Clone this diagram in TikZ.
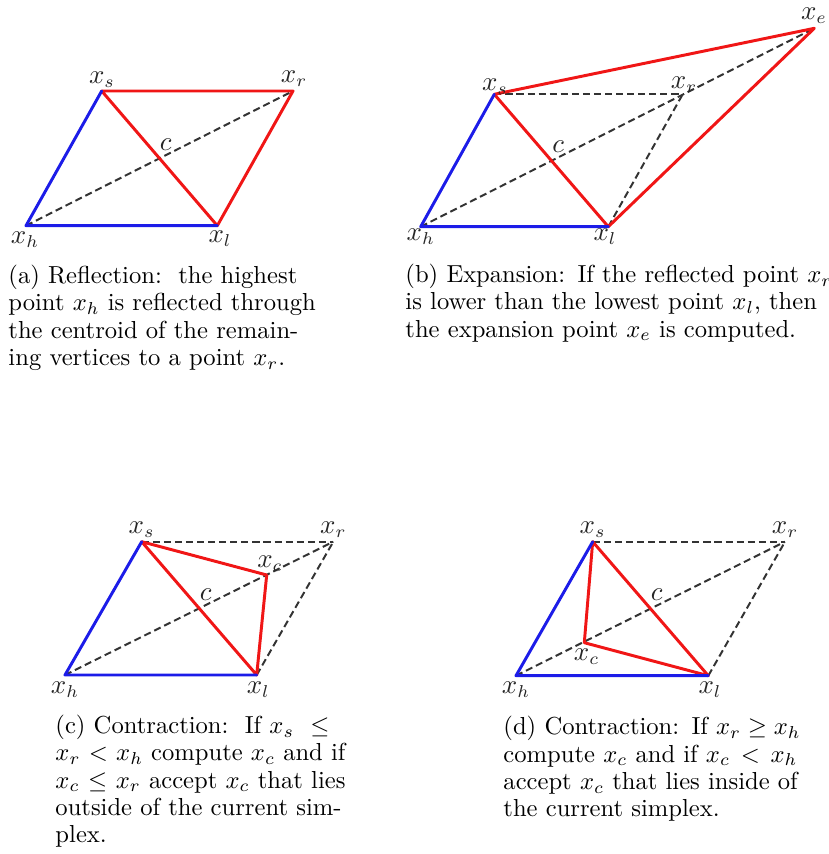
\documentclass[tikz,border=0pt]{standalone}
\newdimen\pxu \pxu=0.4065pt
\definecolor{myred}{RGB}{240,22,22}
\definecolor{myblue}{RGB}{28,28,232}
\begin{document}
\begin{tikzpicture}[x={(0.4065pt,0)}, y={(0,-0.4065pt)},
  blueline/.style={draw=myblue, line width=1.2pt, line cap=round, line join=round},
  redline/.style={draw=myred, line width=1.2pt, line cap=round, line join=round},
  dashline/.style={draw=black!80, line width=0.8pt, dash pattern=on 2.9pt off 1.6pt},
  lbl/.style={inner sep=0pt, text=black!85, font=\fontsize{10.5}{12}\selectfont},
  captext/.style={anchor=north west, inner sep=0pt, align=left, font=\fontsize{10}{11.1}\selectfont}]
\useasboundingbox (0,0) rectangle (829,854);

% ---------- (a) ----------
\coordinate (ah) at (26,225.7);
\coordinate (as) at (101.7,91);
\coordinate (al) at (217.3,225.7);
\coordinate (ar) at (293,91);
\draw[dashline] (ah) -- (ar);
\draw[redline] (as) -- (ar) -- (al) -- (as);
\draw[blueline] (al) -- (ah) -- (as);
\node[lbl] (ahl) at (25,240) {$x_h$};
\node[lbl] (asl) at (102,80) {$x_s$};
\node[lbl] (all) at (220,239) {$x_l$};
\node[lbl] (arl) at (294,79) {$x_r$};
\node[lbl] (acl) at (165.7,145) {$c$};
\node[captext, text width=303\pxu] (acap) at (8,264.5) {%
\makebox[303\pxu][s]{(a) Reflection:\ \ the highest}\\
\makebox[303\pxu][s]{point $x_h$ is reflected through}\\
\makebox[303\pxu][s]{the centroid of the remain-}\\
ing vertices to a point $x_r$.};

% ---------- (b) ----------
\coordinate (bh) at (420.7,226.7);
\coordinate (bs) at (494.3,94.3);
\coordinate (bl) at (608.3,226.7);
\coordinate (br) at (682.7,94.3);
\coordinate (be) at (814.3,28.3);
\draw[dashline] (bh) -- (be);
\draw[dashline] (bs) -- (br);
\draw[dashline] (bl) -- (br);
\draw[redline] (bs) -- (be) -- (bl) -- (bs);
\draw[blueline] (bl) -- (bh) -- (bs);
\node[lbl] (bhl) at (420.7,236.7) {$x_h$};
\node[lbl] (bsl) at (495,86.7) {$x_s$};
\node[lbl] (bll) at (605,236.7) {$x_l$};
\node[lbl] (brl) at (684,85) {$x_r$};
\node[lbl] (bel) at (814,16) {$x_e$};
\node[lbl] (bcl) at (558.3,146.7) {$c$};
\node[captext, text width=424\pxu] (bcap) at (405,263.5) {%
\makebox[424\pxu][s]{(b) Expansion: If the reflected point $x_r$}\\
\makebox[424\pxu][s]{is lower than the lowest point $x_l$, then}\\
the expansion point $x_e$ is computed.};

% ---------- (c) ----------
\coordinate (ch) at (65,675);
\coordinate (cs) at (141.7,541.7);
\coordinate (cl) at (256.7,675);
\coordinate (cr) at (333.3,541.7);
\coordinate (cc) at (266.7,575);
\draw[dashline] (ch) -- (cr);
\draw[dashline] (cs) -- (cr);
\draw[dashline] (cl) -- (cr);
\draw[redline] (cs) -- (cc) -- (cl) -- (cs);
\draw[blueline] (cl) -- (ch) -- (cs);
\node[lbl] (chl) at (65,690) {$x_h$};
\node[lbl] (csl) at (141.7,530) {$x_s$};
\node[lbl] (cll) at (258.3,690) {$x_l$};
\node[lbl] (crl) at (333.3,529.3) {$x_r$};
\node[lbl] (ccl) at (270,563.3) {$x_c$};
\node[lbl] (ccc) at (205.7,595) {$c$};
\node[captext, text width=290\pxu] (ccap) at (55,714.5) {%
\makebox[290\pxu][s]{(c) Contraction:\ \ If $x_s$ \ $\leq$}\\
\makebox[290\pxu][s]{$x_r < x_h$ compute $x_c$ and if}\\
\makebox[290\pxu][s]{$x_c \leq x_r$ accept $x_c$ that lies}\\
\makebox[290\pxu][s]{outside of the current sim-}\\
plex.};

% ---------- (d) ----------
\coordinate (dh) at (516,675.7);
\coordinate (ds) at (592.7,541.7);
\coordinate (dl) at (708.3,675.7);
\coordinate (dr) at (785,541.7);
\coordinate (dc) at (584.3,642.7);
\draw[dashline] (dh) -- (dr);
\draw[dashline] (ds) -- (dr);
\draw[dashline] (dl) -- (dr);
\draw[redline] (ds) -- (dc) -- (dl) -- (ds);
\draw[blueline] (dl) -- (dh) -- (ds);
\node[lbl] (dhl) at (516,690) {$x_h$};
\node[lbl] (dsl) at (592.7,530) {$x_s$};
\node[lbl] (dll) at (710,690) {$x_l$};
\node[lbl] (drl) at (785,529.3) {$x_r$};
\node[lbl] (dcl) at (586.7,656.7) {$x_c$};
\node[lbl] (dcc) at (656.7,595) {$c$};
\node[captext, text width=294\pxu] (dcap) at (503,716) {%
\makebox[294\pxu][s]{(d) Contraction: If $x_r \geq x_h$}\\
\makebox[294\pxu][s]{compute $x_c$ and if $x_c < x_h$}\\
\makebox[294\pxu][s]{accept $x_c$ that lies inside of}\\
the current simplex.};
\end{tikzpicture}
\end{document}
